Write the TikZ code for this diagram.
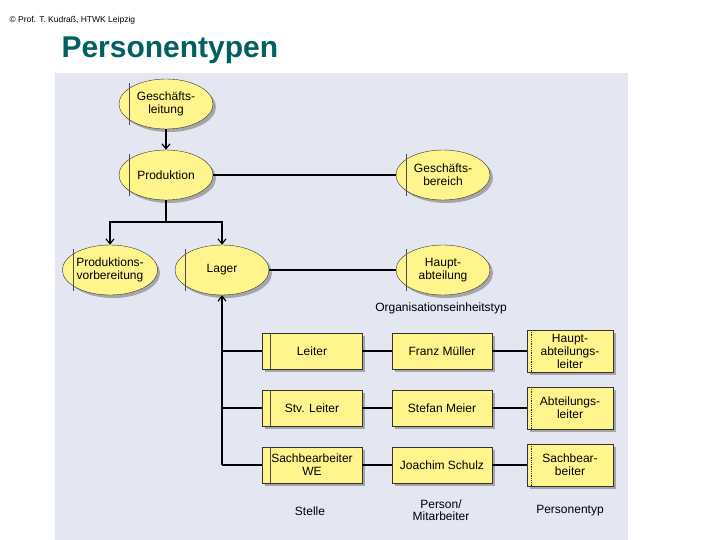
\documentclass[tikz,border=0pt]{standalone}
\usepackage{fontspec}
\setmainfont{Liberation Sans}
\usetikzlibrary{arrows.meta,shapes.geometric}
\definecolor{bg}{RGB}{228,230,242}
\definecolor{yel}{RGB}{255,245,140}
\definecolor{teal}{RGB}{0,96,96}
\begin{document}
\begin{tikzpicture}[x=1pt,y=-1pt,
  ell/.style={draw=black!80,fill=yel,ellipse,minimum width=94pt,minimum height=50pt,inner sep=0pt,font=\fontsize{12}{13}\selectfont,align=center},
  box/.style={draw=black!80,fill=yel,rectangle,minimum width=100pt,minimum height=36pt,inner sep=1pt,font=\fontsize{12}{13}\selectfont,align=center},
  ptbox/.style={box,minimum width=86pt,minimum height=42pt},
  lbl/.style={font=\fontsize{12}{12.5}\selectfont,align=center},
  con/.style={line width=1.2pt},
  arr/.style={con,-{Straight Barb[length=5pt,width=8pt]}}]
\useasboundingbox (0,0) rectangle (720,540);
\fill[bg] (55,73) rectangle (628,540);
\node[anchor=west,font=\fontsize{8.5}{9}\selectfont] (copy) at (6,20) {© Prof. T. Kudraß, HTWK Leipzig};
\node[anchor=west,font=\bfseries\fontsize{30}{32}\selectfont,text=teal] (title) at (58,50) {Personentypen};
\foreach \n/\x/\y/\t in {gl/166/104/{Geschäfts-\\leitung},pr/166/175/Produktion,pv/110/270/{Produktions-\\vorbereitung},la/222/270/Lager,gb/443/175/{Geschäfts-\\bereich},ha/443/270/{Haupt-\\abteilung}}{
  \fill[black!35] (\x+3,\y+3) ellipse (47 and 25);
  \node[ell] (\n) at (\x,\y) {\t};
  \draw[black!70] (\x-37,\y-21) -- (\x-37,\y+21);
}
\draw[arr] (gl) -- (pr);
\draw[con] (pr) -- (gb);
\draw[con] (la) -- (ha);
\coordinate (j) at (166,222);
\draw[con] (pr.south) -- (j);
\draw[arr] (j) -| (pv.north);
\draw[arr] (j) -| (la.north);
\node[lbl] (oet) at (441,308) {Organisationseinheitstyp};
\foreach \i/\y/\s/\p/\t in {1/351/Leiter/Franz Müller/{Haupt-\\abteilungs-\\leiter},2/408/Stv. Leiter/Stefan Meier/{Abteilungs-\\leiter},3/465/{Sachbearbeiter\\WE}/Joachim Schulz/{Sachbear-\\beiter}}{
  \fill[black!35] (265,\y-15) rectangle (365,\y+21);
  \fill[black!35] (395,\y-15) rectangle (495,\y+21);
  \fill[black!35] (530,\y-18) rectangle (616,\y+24);
  \node[box] (s\i) at (312,\y) {\s};
  \node[box] (p\i) at (442,\y) {\p};
  \node[ptbox] (t\i) at (570,\y) {\t};
  \draw[black!70] (270,\y-18) -- (270,\y+18);
  \draw[black!80,densely dotted,thick] (531,\y-21) -- (531,\y+21);
  \draw[con] (s\i) -- (p\i);
  \draw[con] (p\i) -- (t\i);
  \coordinate (b\i) at (222,\y);
  \draw[con] (b\i) -- (s\i);
}
\draw[arr] (b3) -- (la.south);
\node[lbl] (l1) at (310,511) {Stelle};
\node[lbl] (l2) at (441,510) {Person/\\Mitarbeiter};
\node[lbl] (l3) at (570,511) {Personentyp};
\end{tikzpicture}
\end{document}
